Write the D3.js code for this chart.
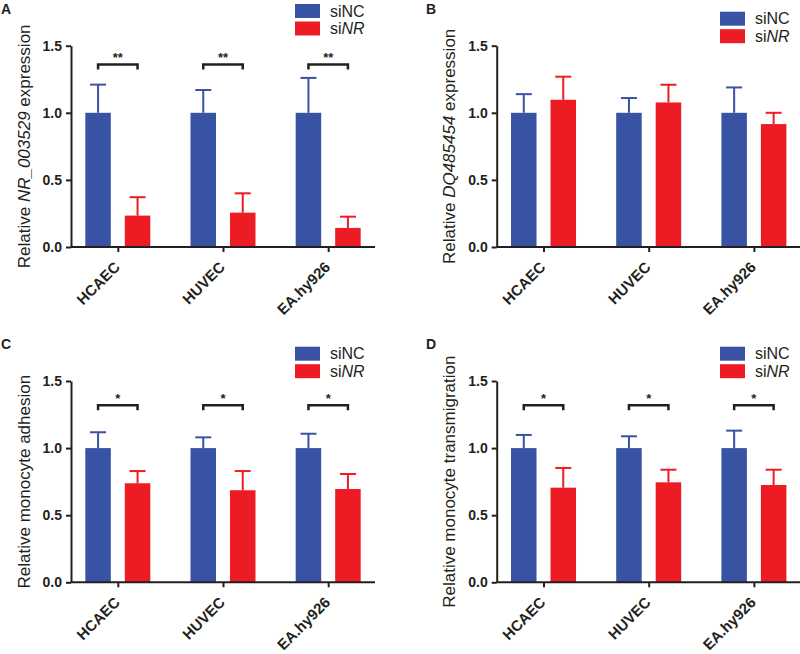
<!DOCTYPE html>
<html>
<head>
<meta charset="utf-8">
<script src="https://cdn.jsdelivr.net/npm/d3@7"></script>
<style>
  html, body { margin: 0; padding: 0; background: #fff; }
  svg { display: block; font-family: "Liberation Sans", Arial, sans-serif; }
</style>
</head>
<body>
<svg id="chart" width="800" height="654"></svg>
<script>
// ---------- DATA ----------
const categories = ["HCAEC", "HUVEC", "EA.hy926"];
const seriesNames = ["siNC", "siNR"];
const yTicks = [0, 0.5, 1.0, 1.5];

// Panel A: NR_003529 expression
const aNC = [1.0, 1.0, 1.0];
const aNCerr = [0.21, 0.17, 0.26];
const aNR = [0.234, 0.256, 0.142];
const aNRerr = [0.137, 0.144, 0.084];
const aSig = ["**", "**", "**"];
const aSigLevel = 1.36;

// Panel B: DQ485454 expression
const bNC = [1.0, 1.0, 1.0];
const bNCerr = [0.139, 0.11, 0.189];
const bNR = [1.097, 1.077, 0.916];
const bNRerr = [0.172, 0.132, 0.084];
const bSig = [];
const bSigLevel = null;

// Panel C: monocyte adhesion
const cNC = [1.0, 1.0, 1.0];
const cNCerr = [0.118, 0.08, 0.107];
const cNR = [0.738, 0.686, 0.695];
const cNRerr = [0.091, 0.143, 0.112];
const cSig = ["*", "*", "*"];
const cSigLevel = 1.32;

// Panel D: monocyte transmigration
const dNC = [1.0, 1.0, 1.0];
const dNCerr = [0.098, 0.088, 0.13];
const dNR = [0.705, 0.745, 0.725];
const dNRerr = [0.147, 0.094, 0.114];
const dSig = ["*", "*", "*"];
const dSigLevel = 1.32;

// ---------- STYLE / LAYOUT ----------
const colors = { siNC: "#3953a4", siNR: "#ed1c24" };
const ink = "#231f20";

const panels = [
  { letter: "A", lx: 1, ly: 14, x0: 71, x1: 375, yb: 247, yt: 45.7, labX: 29.5,
    label: ["Relative ", "NR_003529", " expression"],
    nc: aNC, ncErr: aNCerr, nr: aNR, nrErr: aNRerr, sig: aSig, sigLevel: aSigLevel,
    legX: 295, legY: 4 },
  { letter: "B", lx: 426, ly: 14, x0: 496.7, x1: 800.7, yb: 247, yt: 45.7, labX: 455,
    label: ["Relative ", "DQ485454", " expression"],
    nc: bNC, ncErr: bNCerr, nr: bNR, nrErr: bNRerr, sig: bSig, sigLevel: bSigLevel,
    legX: 720, legY: 11.7 },
  { letter: "C", lx: 1, ly: 348.5, x0: 71, x1: 375, yb: 582.3, yt: 381, labX: 30,
    label: ["Relative monocyte adhesion"],
    nc: cNC, ncErr: cNCerr, nr: cNR, nrErr: cNRerr, sig: cSig, sigLevel: cSigLevel,
    legX: 295, legY: 346.7 },
  { letter: "D", lx: 426, ly: 348.5, x0: 496.7, x1: 800.7, yb: 582.3, yt: 381, labX: 455,
    label: ["Relative monocyte transmigration"],
    nc: dNC, ncErr: dNCerr, nr: dNR, nrErr: dNRerr, sig: dSig, sigLevel: dSigLevel,
    legX: 720, legY: 346.7 }
];

const svg = d3.select("#chart");

panels.forEach(p => {
  const g = svg.append("g");

  const x = d3.scalePoint().domain(categories).range([p.x0, p.x1]).padding(0.445);
  const xs = d3.scaleBand().domain(seriesNames).range([-32.5, 32.5]).paddingInner(0.354).paddingOuter(0);
  const y = d3.scaleLinear().domain([0, 1.5]).range([p.yb, p.yt]);

  const rows = [];
  categories.forEach((c, i) => {
    rows.push({ cat: c, s: "siNC", v: p.nc[i], e: p.ncErr[i] });
    rows.push({ cat: c, s: "siNR", v: p.nr[i], e: p.nrErr[i] });
  });

  // error bars (upper only)
  const capW = 16;
  rows.forEach(r => {
    const cx = x(r.cat) + xs(r.s) + xs.bandwidth() / 2;
    g.append("line").attr("x1", cx).attr("x2", cx)
      .attr("y1", y(r.v)).attr("y2", y(r.v + r.e))
      .attr("stroke", colors[r.s]).attr("stroke-width", 2);
    g.append("line").attr("x1", cx - capW / 2).attr("x2", cx + capW / 2)
      .attr("y1", y(r.v + r.e)).attr("y2", y(r.v + r.e))
      .attr("stroke", colors[r.s]).attr("stroke-width", 2);
  });

  // bars
  g.selectAll("rect.bar").data(rows).join("rect")
    .attr("class", "bar")
    .attr("x", d => x(d.cat) + xs(d.s))
    .attr("width", xs.bandwidth())
    .attr("y", d => y(d.v))
    .attr("height", d => y(0) - y(d.v))
    .attr("fill", d => colors[d.s]);

  // y axis
  const ya = g.append("g").attr("transform", `translate(${p.x0},0)`)
    .call(d3.axisLeft(y).tickValues(yTicks).tickFormat(d3.format(".1f")).tickSize(5).tickSizeOuter(0).tickPadding(4));
  ya.select(".domain").attr("stroke", ink).attr("stroke-width", 2);
  ya.selectAll(".tick line").attr("stroke", ink).attr("stroke-width", 2);
  ya.selectAll(".tick text").attr("fill", ink).attr("font-size", 14).attr("font-weight", "bold")
    .attr("font-family", "'Liberation Sans', Arial, sans-serif");

  // x axis
  const xa = g.append("g").attr("transform", `translate(0,${p.yb})`)
    .call(d3.axisBottom(x).tickSize(5).tickSizeOuter(0).tickFormat(""));
  xa.select(".domain").attr("stroke", ink).attr("stroke-width", 2)
    .attr("d", `M${p.x0},0H${p.x1}`);
  xa.selectAll(".tick line").attr("stroke", ink).attr("stroke-width", 2);

  // rotated x labels
  categories.forEach(c => {
    g.append("text")
      .attr("transform", `translate(${x(c) + 3},${p.yb + 21}) rotate(-45)`)
      .attr("text-anchor", "end")
      .attr("font-size", 15).attr("font-weight", "bold").attr("fill", ink)
      .text(c);
  });

  // y label
  const yl = g.append("text")
    .attr("transform", `translate(${p.labX},${(p.yb + p.yt) / 2}) rotate(-90)`)
    .attr("text-anchor", "middle").attr("font-size", 17).attr("fill", ink);
  p.label.forEach((t, i) => {
    yl.append("tspan").attr("font-style", i === 1 ? "italic" : "normal").text(t);
  });

  // significance brackets
  if (p.sigLevel !== null) {
    p.sig.forEach((s, i) => {
      const c = categories[i];
      const xa1 = x(c) + xs("siNC") + xs.bandwidth() / 2;
      const xa2 = x(c) + xs("siNR") + xs.bandwidth() / 2;
      const yy = y(p.sigLevel);
      g.append("path")
        .attr("d", `M${xa1},${yy + 5}V${yy}H${xa2}V${yy + 5}`)
        .attr("fill", "none").attr("stroke", ink).attr("stroke-width", 2.5);
      g.append("text")
        .attr("x", (xa1 + xa2) / 2).attr("y", yy - 2.5)
        .attr("text-anchor", "middle").attr("font-size", 13).attr("font-weight", "bold").attr("fill", ink)
        .text(s);
    });
  }

  // legend
  seriesNames.forEach((s, i) => {
    const ly = p.legY + i * 17.5;
    g.append("rect").attr("x", p.legX).attr("y", ly).attr("width", 25).attr("height", 14)
      .attr("fill", colors[s]);
    const t = g.append("text").attr("x", p.legX + 35).attr("y", ly + 12.5)
      .attr("font-size", 16).attr("fill", ink);
    t.append("tspan").text("si");
    t.append("tspan").attr("font-style", s === "siNR" ? "italic" : "normal").text(s.slice(2));
  });

  // panel letter
  g.append("text").attr("x", p.lx).attr("y", p.ly)
    .attr("font-size", 14).attr("font-weight", "bold").attr("fill", ink).text(p.letter);
});
</script>
</body>
</html>
